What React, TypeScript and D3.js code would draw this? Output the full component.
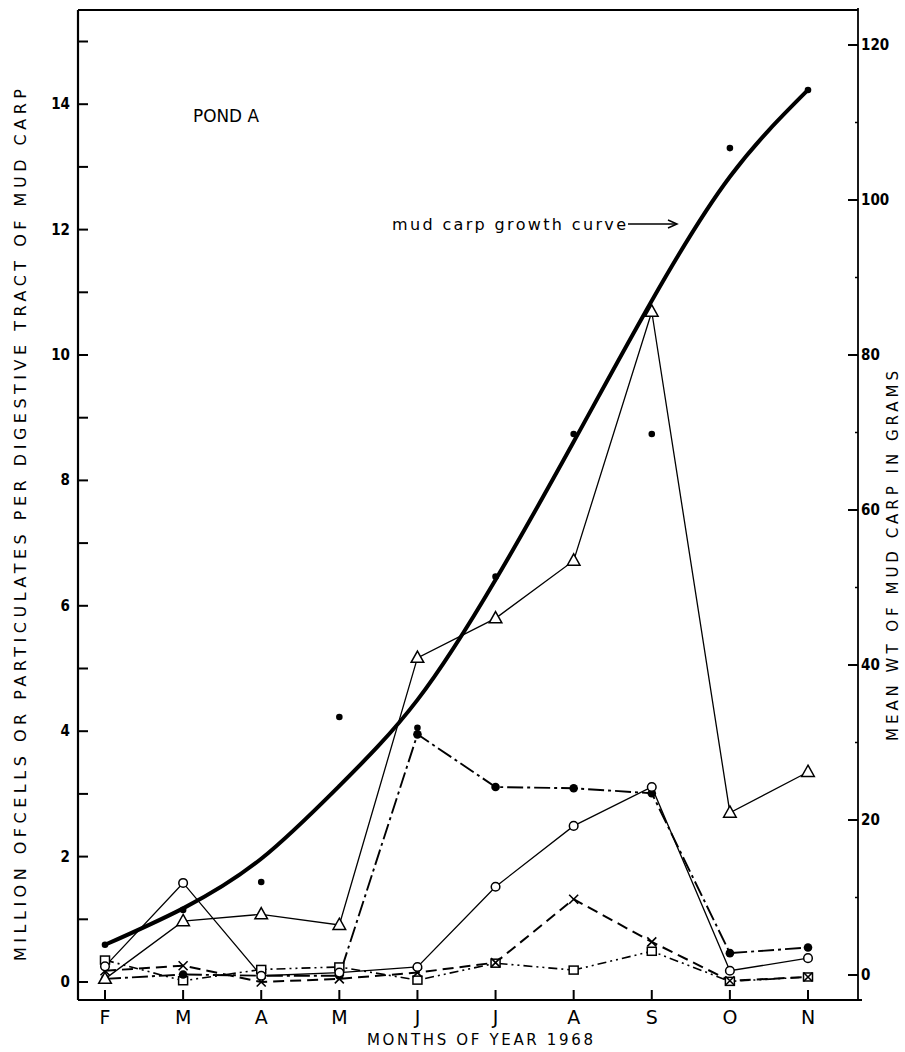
import React from "react";
import * as d3 from "d3";

const months = ["F", "M", "A", "M", "J", "J", "A", "S", "O", "N"];
const leftTicks = [0, 2, 4, 6, 8, 10, 12, 14];
const leftMinor = [1, 3, 5, 7, 9, 11, 13, 15];
const rightTicks = [0, 20, 40, 60, 80, 100, 120];
const rightMinor = [10, 30, 50, 70, 90, 110];

// million cells per digestive tract (left axis)
const triangleSeries = [0.05, 0.97, 1.08, 0.91, 5.17, 5.8, 6.72, 10.69, 2.7, 3.35];
const openCircleSeries = [0.25, 1.58, 0.1, 0.15, 0.24, 1.52, 2.49, 3.11, 0.18, 0.38];
const filledCircleSeries = [0.05, 0.12, 0.1, 0.1, 3.95, 3.11, 3.09, 3.01, 0.46, 0.55];
const crossSeries = [0.18, 0.26, 0.0, 0.05, 0.15, 0.31, 1.32, 0.64, 0.02, 0.08];
const squareSeries = [0.35, 0.02, 0.2, 0.24, 0.03, 0.3, 0.19, 0.49, 0.01, 0.08];

// mean weight of mud carp in grams (right axis)
const growthObserved = [3.9, 8.4, 12.0, 33.3, 31.9, 51.4, 69.8, 69.8, 106.7, 114.2];
const growthCurve = [3.9, 8.6, 15.0, 24.4, 35.5, 51.0, 68.8, 87.0, 103.0, 114.2];

const W = 905;
const H = 1052;
const AX_L = 78;
const AX_R = 858;
const AX_B = 1000;
const AX_T = 10;

export default function App() {
  const idx = months.map((_, i) => i);
  const x = d3.scaleLinear().domain([0, 9]).range([105, 808]);
  const yL = d3.scaleLinear().domain([0, 14]).range([982, 104.2]);
  const yR = d3.scaleLinear().domain([0, 120]).range([975, 45]);

  const lineL = d3
    .line<number>()
    .x((_, i) => x(i))
    .y((d) => yL(d));
  const curveR = d3
    .line<number>()
    .x((_, i) => x(i))
    .y((d) => yR(d))
    .curve(d3.curveNatural);

  const tickFont = "'DejaVu Sans Condensed', 'DejaVu Sans', sans-serif";
  const labelFont = "'DejaVu Sans', sans-serif";

  const tri = (cx: number, cy: number, s: number) =>
    `M${cx},${cy - s * 0.75} L${cx + s * 0.7},${cy + s * 0.5} L${cx - s * 0.7},${cy + s * 0.5} Z`;

  return (
    <svg
      width={W}
      height={H}
      style={{ position: "absolute", left: 0, top: 0, background: "#fff" }}
      fontFamily={labelFont}
    >
      <rect x={0} y={0} width={W} height={H} fill="#fff" />
      {/* frame */}
      <line x1={AX_L} y1={AX_T} x2={AX_L} y2={AX_B} stroke="#000" strokeWidth={2.2} />
      <line x1={AX_R} y1={AX_T - 2} x2={AX_R} y2={AX_B} stroke="#000" strokeWidth={1.8} />
      <line x1={AX_L} y1={AX_T} x2={AX_R} y2={AX_T} stroke="#000" strokeWidth={2} />
      <line x1={AX_L} y1={AX_B} x2={AX_R + 4} y2={AX_B} stroke="#000" strokeWidth={2.2} />

      {/* left ticks */}
      {leftTicks.map((t) => (
        <g key={"lt" + t}>
          <line x1={AX_L} x2={AX_L + 10} y1={yL(t)} y2={yL(t)} stroke="#000" strokeWidth={2} />
          <text
            x={AX_L - 8}
            y={yL(t)}
            textAnchor="end"
            dominantBaseline="central"
            fontFamily={tickFont}
            fontWeight="bold"
            fontSize={15}
          >
            {t}
          </text>
        </g>
      ))}
      {leftMinor.map((t) => (
        <line key={"lm" + t} x1={AX_L} x2={AX_L + 10} y1={yL(t)} y2={yL(t)} stroke="#000" strokeWidth={2} />
      ))}

      {/* right ticks */}
      {rightTicks.map((t) => (
        <g key={"rt" + t}>
          <line x1={AX_R - 10} x2={AX_R} y1={yR(t)} y2={yR(t)} stroke="#000" strokeWidth={2} />
          <text
            x={AX_R + 3}
            y={yR(t)}
            textAnchor="start"
            dominantBaseline="central"
            fontFamily={tickFont}
            fontWeight="bold"
            fontSize={15}
          >
            {t}
          </text>
        </g>
      ))}
      {rightMinor.map((t) => (
        <line key={"rm" + t} x1={AX_R - 3} x2={AX_R} y1={yR(t)} y2={yR(t)} stroke="#000" strokeWidth={1.5} />
      ))}

      {/* x ticks */}
      {idx.map((i) => (
        <g key={"xt" + i}>
          <line x1={x(i)} x2={x(i)} y1={AX_B - 10} y2={AX_B} stroke="#000" strokeWidth={2} />
          <text
            x={x(i)}
            y={AX_B + 17}
            textAnchor="middle"
            dominantBaseline="central"
            fontFamily={labelFont}
            fontSize={19}
          >
            {months[i]}
          </text>
        </g>
      ))}

      {/* axis titles */}
      <text
        x={480}
        y={AX_B + 40}
        textAnchor="middle"
        dominantBaseline="central"
        fontSize={15}
        textLength={226}
        lengthAdjust="spacing"
      >
        MONTHS OF YEAR 1968
      </text>
      <text
        transform={`translate(20,525) rotate(-90)`}
        textAnchor="middle"
        dominantBaseline="central"
        fontSize={16}
        textLength={872}
        lengthAdjust="spacing"
      >
        MILLION OFCELLS OR PARTICULATES PER DIGESTIVE TRACT OF MUD CARP
      </text>
      <text
        transform={`translate(893,556) rotate(-90)`}
        textAnchor="middle"
        dominantBaseline="central"
        fontSize={15}
        textLength={370}
        lengthAdjust="spacing"
      >
        MEAN WT OF MUD CARP IN GRAMS
      </text>

      {/* annotations */}
      <text x={193} y={115} dominantBaseline="central" fontSize={18} textLength={66} lengthAdjust="spacingAndGlyphs">
        POND A
      </text>
      <text x={392} y={224} dominantBaseline="central" fontSize={16} textLength={234} lengthAdjust="spacing">
        mud carp growth curve
      </text>
      <line x1={628} y1={224} x2={676} y2={224} stroke="#000" strokeWidth={1.3} />
      <path d="M668,220 L677,224 L668,228" fill="none" stroke="#000" strokeWidth={1.5} />

      {/* growth curve (right axis) */}
      <path d={curveR(growthCurve) || ""} fill="none" stroke="#000" strokeWidth={4} strokeLinecap="round" />
      {growthObserved.map((v, i) => (
        <circle key={"go" + i} cx={x(i)} cy={yR(v)} r={3.3} fill="#000" />
      ))}

      {/* square series: dash-dot-dot */}
      <path
        d={lineL(squareSeries) || ""}
        fill="none"
        stroke="#000"
        strokeWidth={1.6}
        strokeDasharray="9,4,2,4,2,4"
      />
      {/* cross series: dashed */}
      <path d={lineL(crossSeries) || ""} fill="none" stroke="#000" strokeWidth={2} strokeDasharray="11,6" />
      {/* filled circle series: dash-dot */}
      <path
        d={lineL(filledCircleSeries) || ""}
        fill="none"
        stroke="#000"
        strokeWidth={1.9}
        strokeDasharray="16,4,3,4"
      />
      {/* open circle series: solid */}
      <path d={lineL(openCircleSeries) || ""} fill="none" stroke="#000" strokeWidth={1.3} />
      {/* triangle series: solid */}
      <path d={lineL(triangleSeries) || ""} fill="none" stroke="#000" strokeWidth={1.3} />

      {/* markers */}
      {squareSeries.map((v, i) => (
        <rect key={"sq" + i} x={x(i) - 4.5} y={yL(v) - 4} width={9} height={8} fill="#fff" stroke="#000" strokeWidth={1.5} />
      ))}
      {crossSeries.map((v, i) => (
        <path
          key={"cr" + i}
          d={`M${x(i) - 4.5},${yL(v) - 4.5} L${x(i) + 4.5},${yL(v) + 4.5} M${x(i) + 4.5},${yL(v) - 4.5} L${x(i) - 4.5},${yL(v) + 4.5}`}
          stroke="#000"
          strokeWidth={1.6}
        />
      ))}
      {filledCircleSeries.map((v, i) => (
        <circle key={"fc" + i} cx={x(i)} cy={yL(v)} r={4.3} fill="#000" />
      ))}
      {openCircleSeries.map((v, i) => (
        <circle key={"oc" + i} cx={x(i)} cy={yL(v)} r={4.3} fill="#fff" stroke="#000" strokeWidth={1.5} />
      ))}
      {triangleSeries.map((v, i) => (
        <path key={"tr" + i} d={tri(x(i), yL(v), 9)} fill="#fff" stroke="#000" strokeWidth={1.5} />
      ))}
    </svg>
  );
}
